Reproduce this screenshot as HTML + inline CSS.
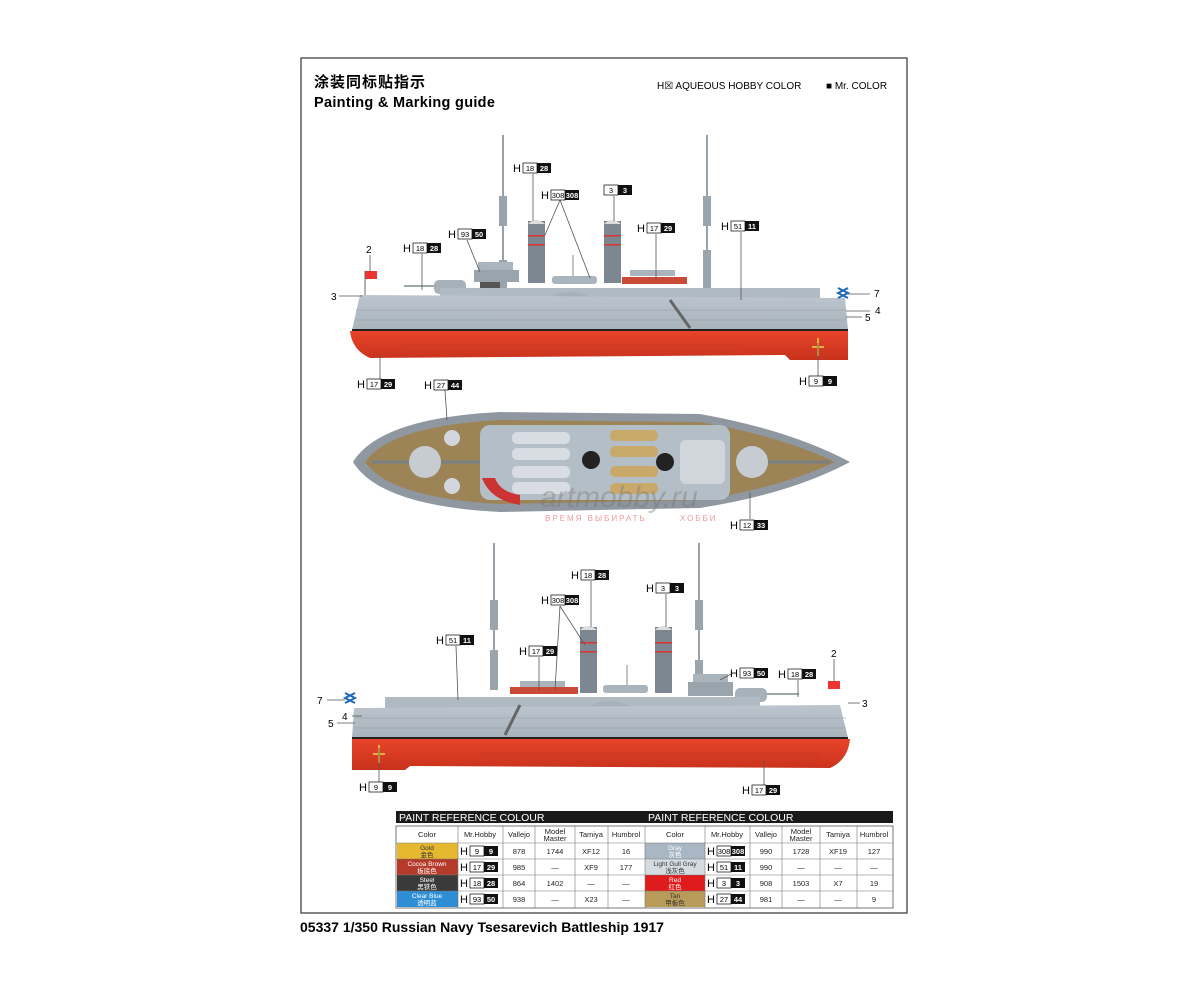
<!DOCTYPE html>
<html><head><meta charset="utf-8"><style>
html,body{margin:0;padding:0;background:#fff}
svg{display:block}
text{font-family:"Liberation Sans","Noto Sans CJK SC",sans-serif}
</style></head><body>
<svg width="1200" height="982" viewBox="0 0 1200 982" xmlns="http://www.w3.org/2000/svg">
<defs>
<linearGradient id="red" x1="0" y1="0" x2="0" y2="1"><stop offset="0" stop-color="#e8442a"/><stop offset="1" stop-color="#c8321c"/></linearGradient>
<linearGradient id="gray" x1="0" y1="0" x2="0" y2="1"><stop offset="0" stop-color="#bcc5ce"/><stop offset="1" stop-color="#a9b3bc"/></linearGradient>
</defs>
<rect x="301" y="58" width="606" height="855" fill="#fff" stroke="#333" stroke-width="1.2"/>
<text x="314" y="87" font-size="15" font-weight="bold" font-family="Noto Sans CJK SC,sans-serif" letter-spacing="1">涂装同标贴指示</text>
<text x="314" y="107" font-size="14.5" font-weight="bold" letter-spacing="0.3">Painting  &amp;  Marking  guide</text>
<text x="657" y="89" font-size="10">H☒  AQUEOUS HOBBY COLOR</text>
<text x="826" y="89" font-size="10">■  Mr. COLOR</text>

<!-- ===== SHIP 1 ===== -->
<g>
<line x1="503" y1="135" x2="503" y2="285" stroke="#97a1aa" stroke-width="2"/>
<line x1="707" y1="135" x2="707" y2="285" stroke="#97a1aa" stroke-width="2"/>
<rect x="499" y="196" width="8" height="30" fill="#9aa4ad"/>
<rect x="703" y="196" width="8" height="30" fill="#9aa4ad"/>
<rect x="499" y="260" width="8" height="30" fill="#9aa4ad"/>
<rect x="703" y="250" width="8" height="40" fill="#9aa4ad"/>
<rect x="528" y="221" width="17" height="62" fill="#7c8791"/>
<rect x="604" y="221" width="17" height="62" fill="#7c8791"/>
<path d="M528 224 Q536 216 545 224Z M604 224 Q612 216 621 224Z" fill="#ddd"/>
<rect x="528" y="235" width="17" height="1.5" fill="#d33"/><rect x="528" y="244" width="17" height="1.5" fill="#d33"/>
<rect x="604" y="235" width="17" height="1.5" fill="#d33"/><rect x="604" y="244" width="17" height="1.5" fill="#d33"/>
<rect x="478" y="262" width="35" height="8" fill="#aab4bd"/>
<rect x="474" y="270" width="45" height="12" fill="#9aa4ad"/>
<rect x="480" y="282" width="20" height="8" fill="#555"/>
<rect x="552" y="276" width="45" height="8" rx="3" fill="#aab4bd"/>
<line x1="573" y1="255" x2="573" y2="276" stroke="#888"/>
<rect x="622" y="277" width="65" height="7" fill="#c94a36"/>
<rect x="630" y="270" width="45" height="6" fill="#aab4bd"/>
<rect x="434" y="280" width="32" height="14" rx="5" fill="#a7b1ba"/>
<rect x="752" y="290" width="32" height="13" rx="5" fill="#a7b1ba"/>
<rect x="404" y="285" width="32" height="2" fill="#9aa"/>
<rect x="784" y="295" width="26" height="2" fill="#9aa"/>
<path d="M440 288 L820 288 L820 300 L440 300Z" fill="#b0bac3"/>
<ellipse cx="570" cy="302" rx="22" ry="10" fill="#a7b1ba"/>
<path d="M360 295 L845 298 L848 330 L352 330 Z" fill="url(#gray)"/>
<g stroke="#8f99a2" stroke-width="0.6">
<line x1="355" y1="310" x2="846" y2="310"/><line x1="355" y1="320" x2="846" y2="320"/></g>
<path d="M670 300 L690 328" stroke="#666" stroke-width="3"/>
<rect x="352" y="329" width="496" height="2" fill="#222"/>
<path d="M350 331 L848 331 L848 360 L790 360 L785 355 L370 358 Q352 350 350 331Z" fill="url(#red)"/>
<rect x="400" y="344" width="340" height="6" rx="3" fill="#d13a23"/>
<path d="M818 338 v18 M812 347 h12" stroke="#e0b040" stroke-width="2"/>
<rect x="365" y="271" width="12" height="8" fill="#e33"/>
<line x1="365" y1="271" x2="365" y2="295" stroke="#666"/>
<path d="M838 288 l10 5 l-10 5 M848 288 l-10 5 l10 5" stroke="#1e6ab8" stroke-width="2" fill="none"/>
</g>
<!-- ===== TOP VIEW ===== -->
<g>
<path d="M353 462 Q380 418 500 412 L700 414 Q790 430 850 462 Q790 494 700 508 L500 512 Q380 506 353 462Z" fill="#8f98a0"/>
<path d="M365 462 Q390 426 500 420 L700 422 Q780 436 835 462 Q780 488 700 500 L500 504 Q390 498 365 462Z" fill="#9c8457"/>
<rect x="480" y="425" width="250" height="75" rx="10" fill="#b4bec7"/>
<rect x="512" y="432" width="58" height="12" rx="5" fill="#d7dde2"/>
<rect x="512" y="448" width="58" height="12" rx="5" fill="#d7dde2"/>
<rect x="512" y="466" width="58" height="12" rx="5" fill="#d7dde2"/>
<rect x="512" y="482" width="58" height="12" rx="5" fill="#d7dde2"/>
<rect x="610" y="430" width="48" height="11" rx="5" fill="#c9a96a"/>
<rect x="610" y="446" width="48" height="11" rx="5" fill="#c9a96a"/>
<rect x="610" y="466" width="48" height="11" rx="5" fill="#c9a96a"/>
<rect x="610" y="483" width="48" height="11" rx="5" fill="#c9a96a"/>
<rect x="680" y="440" width="45" height="44" rx="6" fill="#d0d6dc"/>
<line x1="372" y1="462" x2="480" y2="462" stroke="#7a7f85" stroke-width="3"/>
<line x1="752" y1="462" x2="830" y2="462" stroke="#7a7f85" stroke-width="3"/>
<circle cx="425" cy="462" r="16" fill="#c6ccd2"/>
<circle cx="752" cy="462" r="16" fill="#c6ccd2"/>
<circle cx="452" cy="438" r="8" fill="#d0d6dc"/><circle cx="452" cy="486" r="8" fill="#d0d6dc"/>
<circle cx="591" cy="460" r="9" fill="#222"/>
<circle cx="665" cy="462" r="9" fill="#222"/>
<path d="M482 478 Q490 500 520 505 L520 495 Q500 492 495 478Z" fill="#c33"/>
<text x="540" y="507" font-size="30" font-style="italic" fill="#777" opacity="0.4" font-family="Liberation Serif,serif">artmobby.ru</text>
<text x="545" y="521" font-size="8" fill="#e99" letter-spacing="2">ВРЕМЯ ВЫБИРАТЬ</text>
<text x="680" y="521" font-size="8" fill="#e99" letter-spacing="2">ХОББИ</text>
</g>
<!-- ===== SHIP 2 ===== -->
<g>
<line x1="494" y1="543" x2="494" y2="690" stroke="#97a1aa" stroke-width="2"/>
<line x1="699" y1="543" x2="699" y2="690" stroke="#97a1aa" stroke-width="2"/>
<rect x="490" y="600" width="8" height="30" fill="#9aa4ad"/>
<rect x="695" y="600" width="8" height="30" fill="#9aa4ad"/>
<rect x="490" y="650" width="8" height="40" fill="#9aa4ad"/>
<rect x="695" y="660" width="8" height="30" fill="#9aa4ad"/>
<rect x="580" y="627" width="17" height="66" fill="#7c8791"/>
<rect x="655" y="627" width="17" height="66" fill="#7c8791"/>
<path d="M580 630 Q588 622 597 630Z M655 630 Q663 622 672 630Z" fill="#ddd"/>
<rect x="580" y="642" width="17" height="1.5" fill="#d33"/><rect x="580" y="651" width="17" height="1.5" fill="#d33"/>
<rect x="655" y="642" width="17" height="1.5" fill="#d33"/><rect x="655" y="651" width="17" height="1.5" fill="#d33"/>
<rect x="510" y="687" width="68" height="7" fill="#c94a36"/>
<rect x="520" y="681" width="45" height="6" fill="#aab4bd"/>
<rect x="603" y="685" width="45" height="8" rx="3" fill="#aab4bd"/>
<line x1="627" y1="665" x2="627" y2="685" stroke="#888"/>
<rect x="693" y="674" width="35" height="8" fill="#aab4bd"/>
<rect x="688" y="682" width="45" height="14" fill="#9aa4ad"/>
<rect x="418" y="698" width="33" height="13" rx="5" fill="#a7b1ba"/>
<rect x="735" y="688" width="32" height="14" rx="5" fill="#a7b1ba"/>
<rect x="392" y="703" width="27" height="2" fill="#9aa"/>
<rect x="767" y="693" width="32" height="2" fill="#9aa"/>
<path d="M385 697 L760 697 L760 708 L385 708Z" fill="#b0bac3"/>
<ellipse cx="610" cy="711" rx="22" ry="10" fill="#a7b1ba"/>
<path d="M354 708 L840 705 L848 738 L352 738 Z" fill="url(#gray)"/>
<g stroke="#8f99a2" stroke-width="0.6">
<line x1="355" y1="718" x2="846" y2="718"/><line x1="355" y1="728" x2="846" y2="728"/></g>
<path d="M520 705 L505 735" stroke="#666" stroke-width="3"/>
<rect x="352" y="737" width="496" height="2" fill="#222"/>
<path d="M352 739 L850 739 Q848 760 830 768 L410 766 L405 770 L352 770Z" fill="url(#red)"/>
<rect x="480" y="752" width="340" height="6" rx="3" fill="#d13a23"/>
<path d="M379 745 v18 M373 754 h12" stroke="#e0b040" stroke-width="2"/>
<rect x="828" y="681" width="12" height="8" fill="#e33"/>
<path d="M345 693 l10 5 l-10 5 M355 693 l-10 5 l10 5" stroke="#1e6ab8" stroke-width="2" fill="none"/>
</g>

<!-- leader lines -->
<g stroke="#555" stroke-width="0.8" fill="none">
<line x1="533" y1="174" x2="533" y2="221"/><line x1="560" y1="200" x2="545" y2="235"/><line x1="560" y1="200" x2="590" y2="278"/>
<line x1="614" y1="196" x2="614" y2="221"/><line x1="467" y1="240" x2="480" y2="272"/><line x1="422" y1="254" x2="422" y2="290"/>
<line x1="656" y1="234" x2="656" y2="280"/><line x1="741" y1="232" x2="741" y2="300"/><line x1="370" y1="255" x2="370" y2="272"/>
<line x1="339" y1="296" x2="362" y2="296"/><line x1="848" y1="294" x2="870" y2="294"/><line x1="846" y1="311" x2="870" y2="311"/><line x1="846" y1="317" x2="862" y2="317"/>
<line x1="380" y1="355" x2="380" y2="380"/><line x1="445" y1="390" x2="447" y2="420"/><line x1="818" y1="343" x2="818" y2="376"/>
<line x1="750" y1="492" x2="750" y2="519"/>
<line x1="591" y1="581" x2="591" y2="627"/><line x1="560" y1="606" x2="585" y2="645"/><line x1="560" y1="606" x2="555" y2="690"/>
<line x1="666" y1="594" x2="666" y2="627"/><line x1="539" y1="657" x2="539" y2="690"/><line x1="456" y1="646" x2="458" y2="700"/>
<line x1="731" y1="674" x2="720" y2="680"/><line x1="798" y1="680" x2="798" y2="697"/><line x1="834" y1="659" x2="834" y2="682"/>
<line x1="848" y1="703" x2="860" y2="703"/><line x1="327" y1="700" x2="345" y2="700"/><line x1="352" y1="716" x2="362" y2="716"/><line x1="337" y1="723" x2="355" y2="723"/>
<line x1="379" y1="748" x2="379" y2="782"/><line x1="764" y1="760" x2="764" y2="785"/>
</g>
<g font-size="10"><text x="366" y="253">2</text><text x="331" y="300">3</text><text x="874" y="297">7</text><text x="875" y="314">4</text><text x="865" y="321">5</text>
<text x="831" y="657">2</text><text x="862" y="707">3</text><text x="317" y="704">7</text><text x="342" y="720">4</text><text x="328" y="727">5</text></g>

<!-- colour labels -->
<g font-size="7.5" text-anchor="middle">
<g transform="translate(514,168)"><text x="3" y="4" font-size="11">H</text><rect x="9" y="-5" width="14" height="10" fill="#fff" stroke="#000" stroke-width=".7"/><text x="16" y="3">18</text><rect x="23" y="-5" width="14" height="10" fill="#111"/><text x="30" y="3" fill="#fff" font-weight="bold">28</text></g>
<g transform="translate(542,195)"><text x="3" y="4" font-size="11">H</text><rect x="9" y="-5" width="14" height="10" fill="#fff" stroke="#000" stroke-width=".7"/><text x="16" y="3">308</text><rect x="23" y="-5" width="14" height="10" fill="#111"/><text x="30" y="3" fill="#fff" font-weight="bold">308</text></g>
<g transform="translate(595,190)"><rect x="9" y="-5" width="14" height="10" fill="#fff" stroke="#000" stroke-width=".7"/><text x="16" y="3">3</text><rect x="23" y="-5" width="14" height="10" fill="#111"/><text x="30" y="3" fill="#fff" font-weight="bold">3</text></g>
<g transform="translate(449,234)"><text x="3" y="4" font-size="11">H</text><rect x="9" y="-5" width="14" height="10" fill="#fff" stroke="#000" stroke-width=".7"/><text x="16" y="3">93</text><rect x="23" y="-5" width="14" height="10" fill="#111"/><text x="30" y="3" fill="#fff" font-weight="bold">50</text></g>
<g transform="translate(404,248)"><text x="3" y="4" font-size="11">H</text><rect x="9" y="-5" width="14" height="10" fill="#fff" stroke="#000" stroke-width=".7"/><text x="16" y="3">18</text><rect x="23" y="-5" width="14" height="10" fill="#111"/><text x="30" y="3" fill="#fff" font-weight="bold">28</text></g>
<g transform="translate(638,228)"><text x="3" y="4" font-size="11">H</text><rect x="9" y="-5" width="14" height="10" fill="#fff" stroke="#000" stroke-width=".7"/><text x="16" y="3">17</text><rect x="23" y="-5" width="14" height="10" fill="#111"/><text x="30" y="3" fill="#fff" font-weight="bold">29</text></g>
<g transform="translate(722,226)"><text x="3" y="4" font-size="11">H</text><rect x="9" y="-5" width="14" height="10" fill="#fff" stroke="#000" stroke-width=".7"/><text x="16" y="3">51</text><rect x="23" y="-5" width="14" height="10" fill="#111"/><text x="30" y="3" fill="#fff" font-weight="bold">11</text></g>
<g transform="translate(358,384)"><text x="3" y="4" font-size="11">H</text><rect x="9" y="-5" width="14" height="10" fill="#fff" stroke="#000" stroke-width=".7"/><text x="16" y="3">17</text><rect x="23" y="-5" width="14" height="10" fill="#111"/><text x="30" y="3" fill="#fff" font-weight="bold">29</text></g>
<g transform="translate(425,385)"><text x="3" y="4" font-size="11">H</text><rect x="9" y="-5" width="14" height="10" fill="#fff" stroke="#000" stroke-width=".7"/><text x="16" y="3">27</text><rect x="23" y="-5" width="14" height="10" fill="#111"/><text x="30" y="3" fill="#fff" font-weight="bold">44</text></g>
<g transform="translate(800,381)"><text x="3" y="4" font-size="11">H</text><rect x="9" y="-5" width="14" height="10" fill="#fff" stroke="#000" stroke-width=".7"/><text x="16" y="3">9</text><rect x="23" y="-5" width="14" height="10" fill="#111"/><text x="30" y="3" fill="#fff" font-weight="bold">9</text></g>
<g transform="translate(731,525)"><text x="3" y="4" font-size="11">H</text><rect x="9" y="-5" width="14" height="10" fill="#fff" stroke="#000" stroke-width=".7"/><text x="16" y="3">12</text><rect x="23" y="-5" width="14" height="10" fill="#111"/><text x="30" y="3" fill="#fff" font-weight="bold">33</text></g>
<g transform="translate(572,575)"><text x="3" y="4" font-size="11">H</text><rect x="9" y="-5" width="14" height="10" fill="#fff" stroke="#000" stroke-width=".7"/><text x="16" y="3">18</text><rect x="23" y="-5" width="14" height="10" fill="#111"/><text x="30" y="3" fill="#fff" font-weight="bold">28</text></g>
<g transform="translate(542,600)"><text x="3" y="4" font-size="11">H</text><rect x="9" y="-5" width="14" height="10" fill="#fff" stroke="#000" stroke-width=".7"/><text x="16" y="3">308</text><rect x="23" y="-5" width="14" height="10" fill="#111"/><text x="30" y="3" fill="#fff" font-weight="bold">308</text></g>
<g transform="translate(647,588)"><text x="3" y="4" font-size="11">H</text><rect x="9" y="-5" width="14" height="10" fill="#fff" stroke="#000" stroke-width=".7"/><text x="16" y="3">3</text><rect x="23" y="-5" width="14" height="10" fill="#111"/><text x="30" y="3" fill="#fff" font-weight="bold">3</text></g>
<g transform="translate(520,651)"><text x="3" y="4" font-size="11">H</text><rect x="9" y="-5" width="14" height="10" fill="#fff" stroke="#000" stroke-width=".7"/><text x="16" y="3">17</text><rect x="23" y="-5" width="14" height="10" fill="#111"/><text x="30" y="3" fill="#fff" font-weight="bold">29</text></g>
<g transform="translate(437,640)"><text x="3" y="4" font-size="11">H</text><rect x="9" y="-5" width="14" height="10" fill="#fff" stroke="#000" stroke-width=".7"/><text x="16" y="3">51</text><rect x="23" y="-5" width="14" height="10" fill="#111"/><text x="30" y="3" fill="#fff" font-weight="bold">11</text></g>
<g transform="translate(731,673)"><text x="3" y="4" font-size="11">H</text><rect x="9" y="-5" width="14" height="10" fill="#fff" stroke="#000" stroke-width=".7"/><text x="16" y="3">93</text><rect x="23" y="-5" width="14" height="10" fill="#111"/><text x="30" y="3" fill="#fff" font-weight="bold">50</text></g>
<g transform="translate(779,674)"><text x="3" y="4" font-size="11">H</text><rect x="9" y="-5" width="14" height="10" fill="#fff" stroke="#000" stroke-width=".7"/><text x="16" y="3">18</text><rect x="23" y="-5" width="14" height="10" fill="#111"/><text x="30" y="3" fill="#fff" font-weight="bold">28</text></g>
<g transform="translate(360,787)"><text x="3" y="4" font-size="11">H</text><rect x="9" y="-5" width="14" height="10" fill="#fff" stroke="#000" stroke-width=".7"/><text x="16" y="3">9</text><rect x="23" y="-5" width="14" height="10" fill="#111"/><text x="30" y="3" fill="#fff" font-weight="bold">9</text></g>
<g transform="translate(743,790)"><text x="3" y="4" font-size="11">H</text><rect x="9" y="-5" width="14" height="10" fill="#fff" stroke="#000" stroke-width=".7"/><text x="16" y="3">17</text><rect x="23" y="-5" width="14" height="10" fill="#111"/><text x="30" y="3" fill="#fff" font-weight="bold">29</text></g>
</g>

<!-- ===== TABLE ===== -->
<rect x="396" y="811" width="497" height="12" fill="#1a1a1a"/>
<text x="399" y="821" font-size="10.5" fill="#fff">PAINT  REFERENCE COLOUR</text>
<text x="648" y="821" font-size="10.5" fill="#fff">PAINT  REFERENCE COLOUR</text>
<rect x="396" y="826" width="497" height="82" fill="#fff" stroke="#555" stroke-width=".8"/>
<rect x="397" y="843" width="61" height="16" fill="#e6b830"/>
<rect x="397" y="859" width="61" height="16" fill="#b63a2a"/>
<rect x="397" y="875" width="61" height="16" fill="#3a3a3a"/>
<rect x="397" y="891" width="61" height="16" fill="#2d8ed6"/>
<rect x="645" y="843" width="60" height="16" fill="#a9b6c4"/>
<rect x="645" y="859" width="60" height="16" fill="#d4dce2"/>
<rect x="645" y="875" width="60" height="16" fill="#e01b1b"/>
<rect x="645" y="891" width="60" height="16" fill="#b89b58"/>
<g stroke="#777" stroke-width=".6">
<line x1="396" y1="843" x2="893" y2="843"/><line x1="396" y1="859" x2="893" y2="859"/><line x1="396" y1="875" x2="893" y2="875"/><line x1="396" y1="891" x2="893" y2="891"/>
<line x1="458" y1="826" x2="458" y2="908"/><line x1="503" y1="826" x2="503" y2="908"/><line x1="535" y1="826" x2="535" y2="908"/><line x1="575" y1="826" x2="575" y2="908"/><line x1="608" y1="826" x2="608" y2="908"/><line x1="645" y1="826" x2="645" y2="908"/>
<line x1="705" y1="826" x2="705" y2="908"/><line x1="750" y1="826" x2="750" y2="908"/><line x1="782" y1="826" x2="782" y2="908"/><line x1="820" y1="826" x2="820" y2="908"/><line x1="857" y1="826" x2="857" y2="908"/>
</g>
<g font-size="7.5" text-anchor="middle" fill="#222">
<text x="427" y="837">Color</text><text x="480" y="837">Mr.Hobby</text><text x="519" y="837">Vallejo</text><text x="555" y="834">Model</text><text x="555" y="841">Master</text><text x="591" y="837">Tamiya</text><text x="626" y="837">Humbrol</text>
<text x="675" y="837">Color</text><text x="727" y="837">Mr.Hobby</text><text x="766" y="837">Vallejo</text><text x="801" y="834">Model</text><text x="801" y="841">Master</text><text x="838" y="837">Tamiya</text><text x="874" y="837">Humbrol</text>
<g font-size="6.5" fill="#fff">
<text x="427" y="850" fill="#333">Gold</text><text x="427" y="857" fill="#333">金色</text>
<text x="427" y="866">Cocoa Brown</text><text x="427" y="873">板底色</text>
<text x="427" y="882">Steel</text><text x="427" y="889">黑铁色</text>
<text x="427" y="898">Clear Blue</text><text x="427" y="905">透明蓝</text>
<text x="675" y="850">Gray</text><text x="675" y="857">灰色</text>
<text x="675" y="866" fill="#333">Light Gull Gray</text><text x="675" y="873" fill="#333">浅灰色</text>
<text x="675" y="882">Red</text><text x="675" y="889">红色</text>
<text x="675" y="898" fill="#333">Tan</text><text x="675" y="905" fill="#333">甲板色</text>
</g>
<text x="519" y="854">878</text><text x="555" y="854">1744</text><text x="591" y="854">XF12</text><text x="626" y="854">16</text>
<text x="519" y="870">985</text><text x="555" y="870">—</text><text x="591" y="870">XF9</text><text x="626" y="870">177</text>
<text x="519" y="886">864</text><text x="555" y="886">1402</text><text x="591" y="886">—</text><text x="626" y="886">—</text>
<text x="519" y="902">938</text><text x="555" y="902">—</text><text x="591" y="902">X23</text><text x="626" y="902">—</text>
<text x="766" y="854">990</text><text x="801" y="854">1728</text><text x="838" y="854">XF19</text><text x="874" y="854">127</text>
<text x="766" y="870">990</text><text x="801" y="870">—</text><text x="838" y="870">—</text><text x="874" y="870">—</text>
<text x="766" y="886">908</text><text x="801" y="886">1503</text><text x="838" y="886">X7</text><text x="874" y="886">19</text>
<text x="766" y="902">981</text><text x="801" y="902">—</text><text x="838" y="902">—</text><text x="874" y="902">9</text>
</g>
<g font-size="7.5" text-anchor="middle">
<g transform="translate(458,851)"><text x="6" y="4" font-size="11">H</text><rect x="12" y="-5" width="14" height="10" fill="#fff" stroke="#000" stroke-width=".7"/><text x="19" y="3">9</text><rect x="26" y="-5" width="14" height="10" fill="#111"/><text x="33" y="3" fill="#fff" font-weight="bold">9</text></g>
<g transform="translate(458,867)"><text x="6" y="4" font-size="11">H</text><rect x="12" y="-5" width="14" height="10" fill="#fff" stroke="#000" stroke-width=".7"/><text x="19" y="3">17</text><rect x="26" y="-5" width="14" height="10" fill="#111"/><text x="33" y="3" fill="#fff" font-weight="bold">29</text></g>
<g transform="translate(458,883)"><text x="6" y="4" font-size="11">H</text><rect x="12" y="-5" width="14" height="10" fill="#fff" stroke="#000" stroke-width=".7"/><text x="19" y="3">18</text><rect x="26" y="-5" width="14" height="10" fill="#111"/><text x="33" y="3" fill="#fff" font-weight="bold">28</text></g>
<g transform="translate(458,899)"><text x="6" y="4" font-size="11">H</text><rect x="12" y="-5" width="14" height="10" fill="#fff" stroke="#000" stroke-width=".7"/><text x="19" y="3">93</text><rect x="26" y="-5" width="14" height="10" fill="#111"/><text x="33" y="3" fill="#fff" font-weight="bold">50</text></g>
<g transform="translate(705,851)"><text x="6" y="4" font-size="11">H</text><rect x="12" y="-5" width="14" height="10" fill="#fff" stroke="#000" stroke-width=".7"/><text x="19" y="3">308</text><rect x="26" y="-5" width="14" height="10" fill="#111"/><text x="33" y="3" fill="#fff" font-weight="bold">308</text></g>
<g transform="translate(705,867)"><text x="6" y="4" font-size="11">H</text><rect x="12" y="-5" width="14" height="10" fill="#fff" stroke="#000" stroke-width=".7"/><text x="19" y="3">51</text><rect x="26" y="-5" width="14" height="10" fill="#111"/><text x="33" y="3" fill="#fff" font-weight="bold">11</text></g>
<g transform="translate(705,883)"><text x="6" y="4" font-size="11">H</text><rect x="12" y="-5" width="14" height="10" fill="#fff" stroke="#000" stroke-width=".7"/><text x="19" y="3">3</text><rect x="26" y="-5" width="14" height="10" fill="#111"/><text x="33" y="3" fill="#fff" font-weight="bold">3</text></g>
<g transform="translate(705,899)"><text x="6" y="4" font-size="11">H</text><rect x="12" y="-5" width="14" height="10" fill="#fff" stroke="#000" stroke-width=".7"/><text x="19" y="3">27</text><rect x="26" y="-5" width="14" height="10" fill="#111"/><text x="33" y="3" fill="#fff" font-weight="bold">44</text></g>
</g>

<text x="300" y="932" font-size="14" font-weight="bold">05337 1/350  Russian Navy Tsesarevich Battleship 1917</text>
</svg>
</body></html>
